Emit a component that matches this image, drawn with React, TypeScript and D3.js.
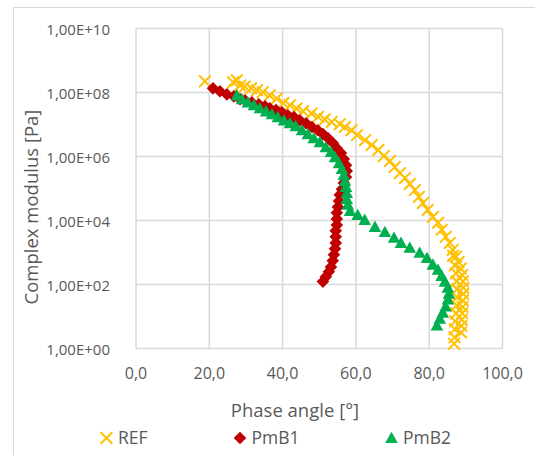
import React from "react";
import * as d3 from "d3";

const W = 535;
const H = 455;

// REF (phase angle [°], log10 complex modulus [Pa])
const refAngle = [18.8, 26.5, 27.5, 28.4, 29.7, 31.4, 33.0, 34.6, 36.5, 38.4, 40.2, 42.0, 43.8, 45.6, 47.9, 49.7, 51.5, 53.4, 55.6, 57.0, 58.8, 60.3, 62.5, 64.3, 66.1, 67.6, 69.3, 70.6, 72.0, 73.4, 74.7, 76.1, 77.2, 78.3, 79.6, 81.0, 82.4, 83.4, 84.5, 85.6, 86.4, 87.3, 88.0, 88.6, 89.0, 89.2, 89.3, 89.3, 89.2, 89.1, 89.0, 88.9, 88.8, 88.7, 86.5, 87.0, 87.3, 87.5, 87.6, 87.6, 87.5, 87.3, 87.1, 87.0, 86.9, 86.8];
const refLogG = [8.35, 8.32, 8.38, 8.22, 8.19, 8.13, 8.07, 8.01, 7.91, 7.81, 7.67, 7.60, 7.50, 7.42, 7.34, 7.24, 7.16, 7.08, 7.01, 6.92, 6.82, 6.67, 6.51, 6.36, 6.20, 6.01, 5.86, 5.67, 5.48, 5.33, 5.14, 4.95, 4.74, 4.55, 4.33, 4.11, 3.93, 3.71, 3.49, 3.30, 3.08, 2.87, 2.70, 2.50, 2.30, 2.10, 1.90, 1.70, 1.50, 1.30, 1.10, 0.90, 0.70, 0.50, 2.90, 2.60, 2.35, 2.10, 1.85, 1.60, 1.35, 1.10, 0.85, 0.60, 0.35, 0.15];

// PmB1
const pmb1Angle = [21.0, 22.9, 24.8, 26.7, 28.4, 29.7, 31.6, 33.5, 35.2, 36.5, 38.2, 39.8, 41.4, 43.1, 44.7, 46.4, 48.0, 49.6, 51.0, 52.4, 53.7, 54.8, 55.9, 56.7, 57.3, 57.5, 57.3, 56.7, 56.2, 55.6, 55.4, 55.1, 54.8, 54.8, 54.8, 54.5, 54.5, 54.5, 54.3, 54.0, 53.7, 53.2, 52.6, 51.8, 51.0];
const pmb1LogG = [8.13, 8.04, 7.94, 7.88, 7.79, 7.76, 7.69, 7.63, 7.57, 7.51, 7.45, 7.38, 7.29, 7.23, 7.13, 7.04, 6.92, 6.82, 6.70, 6.57, 6.42, 6.26, 6.11, 5.92, 5.73, 5.55, 5.36, 5.17, 4.98, 4.80, 4.61, 4.42, 4.24, 4.05, 3.86, 3.68, 3.49, 3.30, 3.12, 2.93, 2.74, 2.55, 2.40, 2.24, 2.09];

// PmB2
const pmb2Angle = [27.5, 28.9, 30.5, 32.2, 33.8, 35.5, 37.1, 38.7, 40.4, 42.0, 43.6, 45.3, 46.9, 48.5, 50.2, 51.8, 53.2, 54.3, 55.4, 56.2, 56.7, 57.0, 57.3, 57.5, 57.5, 57.8, 58.4, 60.5, 62.4, 65.2, 67.9, 70.4, 72.3, 74.7, 77.4, 79.4, 81.0, 82.4, 83.4, 84.3, 85.1, 85.4, 85.1, 84.5, 83.7, 82.9, 82.1];
const pmb2LogG = [7.91, 7.79, 7.69, 7.60, 7.51, 7.41, 7.32, 7.23, 7.13, 7.04, 6.95, 6.82, 6.70, 6.57, 6.45, 6.29, 6.14, 5.98, 5.79, 5.61, 5.42, 5.23, 5.05, 4.86, 4.67, 4.49, 4.30, 4.17, 4.02, 3.80, 3.64, 3.46, 3.30, 3.15, 2.99, 2.83, 2.62, 2.46, 2.27, 2.09, 1.90, 1.71, 1.53, 1.31, 1.12, 0.93, 0.72];

const xTicks = [0, 20, 40, 60, 80, 100];
const xTickLabels = ["0,0", "20,0", "40,0", "60,0", "80,0", "100,0"];
const yTicks = [1, 1e2, 1e4, 1e6, 1e8, 1e10];
const yTickLabels = ["1,00E+00", "1,00E+02", "1,00E+04", "1,00E+06", "1,00E+08", "1,00E+10"];

const seriesNames = ["REF", "PmB1", "PmB2"];
const seriesColors = ["#FFC000", "#C00000", "#00B050"];

const FONT = "'Open Sans', sans-serif";
const TXT = "#595959";

const x = d3.scaleLinear().domain([0, 100]).range([136, 502.5]);
const y = d3.scaleLog().domain([1, 1e10]).range([348.5, 28.5]);

function toPts(a: number[], l: number[]) {
  return a.map((v, i) => ({ a: v, g: Math.pow(10, l[i]) }));
}

const refPts = toPts(refAngle, refLogG);
const pmb1Pts = toPts(pmb1Angle, pmb1LogG);
const pmb2Pts = toPts(pmb2Angle, pmb2LogG);

function XMark({ cx, cy, c }: { cx: number; cy: number; c: string }) {
  const r = 5.8;
  return (
    <path d={`M${cx - r},${cy - r}L${cx + r},${cy + r}M${cx - r},${cy + r}L${cx + r},${cy - r}`} stroke={c} strokeWidth={2} fill="none" />
  );
}
function Diamond({ cx, cy, c }: { cx: number; cy: number; c: string }) {
  const r = 6.3;
  return <path d={`M${cx},${cy - r}L${cx + r},${cy}L${cx},${cy + r}L${cx - r},${cy}Z`} fill={c} />;
}
function Tri({ cx, cy, c }: { cx: number; cy: number; c: string }) {
  const r = 6.3;
  return <path d={`M${cx},${cy - r}L${cx + r},${cy + r * 0.8}L${cx - r},${cy + r * 0.8}Z`} fill={c} />;
}

export default function App() {
  return (
    <svg width={W} height={H} style={{ position: "absolute", left: 0, top: 0, background: "#fff" }}>
      <rect x={13.5} y={7.5} width={W + 20} height={H + 20} fill="#fff" stroke="#d9d9d9" strokeWidth={1} />
      {/* grid */}
      {xTicks.map((t) => (
        <line key={"gx" + t} x1={x(t)} x2={x(t)} y1={y(1e10)} y2={y(1)} stroke="#d9d9d9" strokeWidth={1.5} />
      ))}
      {yTicks.map((t) => (
        <line key={"gy" + t} x1={x(0)} x2={x(100)} y1={y(t)} y2={y(t)} stroke="#d9d9d9" strokeWidth={1.5} />
      ))}
      {/* tick labels */}
      {xTicks.map((t, i) => (
        <text key={"tx" + t} x={x(t)} y={379} textAnchor="middle" fontFamily={FONT} fontSize={16} fill={TXT}>
          {xTickLabels[i]}
        </text>
      ))}
      {yTicks.map((t, i) => (
        <text key={"ty" + t} x={110} y={y(t) + 6} textAnchor="end" fontFamily={FONT} fontSize={15} fill={TXT}>
          {yTickLabels[i]}
        </text>
      ))}
      {/* axis titles */}
      <text x={295} y={417} textAnchor="middle" fontFamily={FONT} fontSize={18.5} fill={TXT}>
        Phase angle [°]
      </text>
      <text transform="translate(38,207) rotate(-90)" textAnchor="middle" fontFamily={FONT} fontSize={18.5} fill={TXT}>
        Complex modulus [Pa]
      </text>
      {/* series */}
      <g>
        {refPts.map((p, i) => (
          <XMark key={"r" + i} cx={x(p.a)} cy={y(p.g)} c={seriesColors[0]} />
        ))}
      </g>
      <g>
        {pmb1Pts.map((p, i) => (
          <Diamond key={"p1" + i} cx={x(p.a)} cy={y(p.g)} c={seriesColors[1]} />
        ))}
      </g>
      <g>
        {pmb2Pts.map((p, i) => (
          <Tri key={"p2" + i} cx={x(p.a)} cy={y(p.g)} c={seriesColors[2]} />
        ))}
      </g>
      {/* legend */}
      <g>
        <XMark cx={106.5} cy={438} c={seriesColors[0]} />
        <text x={118} y={444} fontFamily={FONT} fontSize={17.5} fill={TXT}>{seriesNames[0]}</text>
        <Diamond cx={240} cy={438} c={seriesColors[1]} />
        <text x={251.5} y={444} fontFamily={FONT} fontSize={17.5} fill={TXT}>{seriesNames[1]}</text>
        <Tri cx={391.5} cy={438} c={seriesColors[2]} />
        <text x={403} y={444} fontFamily={FONT} fontSize={17.5} fill={TXT}>{seriesNames[2]}</text>
      </g>
    </svg>
  );
}
